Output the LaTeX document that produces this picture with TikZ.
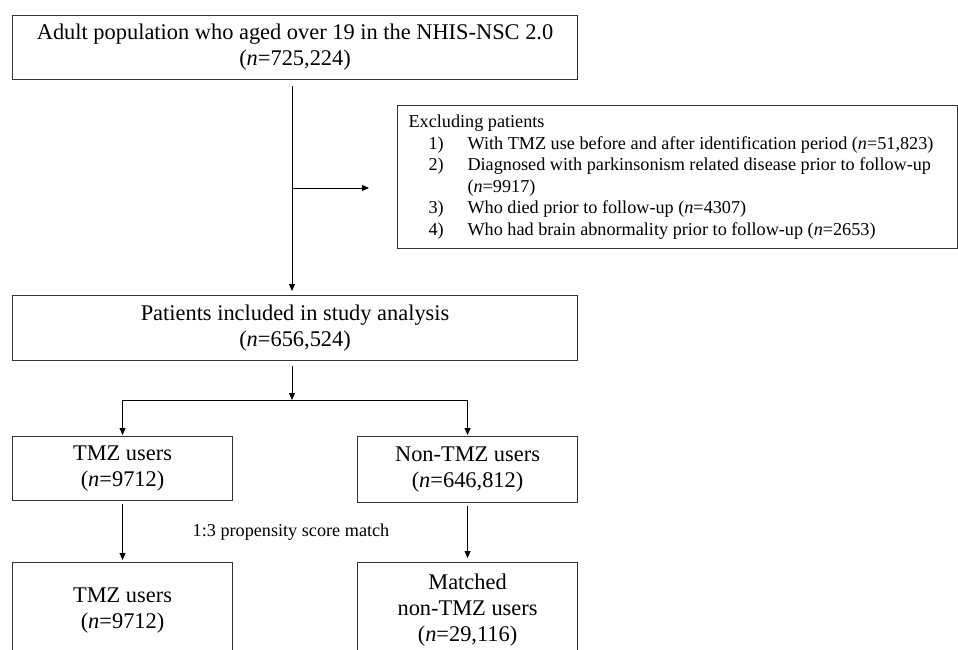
\documentclass[tikz,border=0pt]{standalone}
\usepackage{fontspec}
\setmainfont{Liberation Serif}
\usetikzlibrary{arrows.meta}
\newcommand{\itm}[1]{\hspace*{20pt}\makebox[39pt][l]{#1}}
\begin{document}
\begin{tikzpicture}[x=1pt,y=-1pt,
  box/.style={draw=black!80, line width=1.1pt, inner sep=0pt, align=center, font=\fontsize{22.4}{26}\selectfont},
  conn/.style={line width=1pt, draw=black},
  arr/.style={conn, -{Triangle[length=7pt,width=6pt]}},
  small/.style={font=\fontsize{18.2}{21.5}\selectfont}]
\useasboundingbox (0,0) rectangle (958,650);
\clip (0,0) rectangle (958,650);
\node[box, anchor=north west, minimum width=565pt, minimum height=64pt] (top) at (12,15)
  {Adult population who aged over 19 in the NHIS-NSC 2.0\\(\textit{n}=725,224)};
\node[box, small, anchor=north west, minimum height=143pt] (excl) at (397,105)
  {\makebox[560pt][l]{\hspace*{11pt}\begin{tabular}{@{}l@{}}
   Excluding patients\\
   \itm{1)}With TMZ use before and after identification period (\textit{n}=51,823)\\
   \itm{2)}Diagnosed with parkinsonism related disease prior to follow-up\\
   \hspace*{59pt}(\textit{n}=9917)\\
   \itm{3)}Who died prior to follow-up (\textit{n}=4307)\\
   \itm{4)}Who had brain abnormality prior to follow-up (\textit{n}=2653)
   \end{tabular}}};
\node[box, anchor=north west, minimum width=565pt, minimum height=65pt] (pat) at (12,295)
  {Patients included in study analysis\\(\textit{n}=656,524)};
\node[box, anchor=north west, minimum width=220pt, minimum height=64pt] (tmz) at (12,436)
  {TMZ users\\(\textit{n}=9712)};
\node[box, anchor=north west, minimum width=220pt, minimum height=66pt] (non) at (357,436)
  {Non-TMZ users\\(\textit{n}=646,812)};
\node[box, anchor=north west, minimum width=220pt, minimum height=96pt] (tmz2) at (12,562)
  {TMZ users\\(\textit{n}=9712)};
\node[box, anchor=north west, minimum width=220pt, minimum height=96pt] (mat) at (357,562)
  {Matched\\non-TMZ users\\(\textit{n}=29,116)};
\node[small] (psm) at (291,532) {1:3 propensity score match};
\coordinate (spine) at (292,0);
\coordinate (exc) at (292,188);
\coordinate (split) at (292,400);
\draw[arr, shorten <=6pt, shorten >=4pt] (top.south -| spine) -- (pat.north -| spine);
\draw[arr, shorten >=28pt] (exc) -- (exc -| excl.west);
\draw[arr, shorten <=5pt] (pat.south -| spine) -- (split);
\draw[conn] (split -| tmz) -- (split -| non);
\draw[arr, shorten >=1pt] (split -| tmz) -- (tmz.north);
\draw[arr, shorten >=1pt] (split -| non) -- (non.north);
\draw[arr, shorten <=3pt, shorten >=2pt] (tmz.south) -- (tmz2.north);
\draw[arr, shorten <=3pt, shorten >=4pt] (non.south) -- (mat.north);
\end{tikzpicture}
\end{document}
